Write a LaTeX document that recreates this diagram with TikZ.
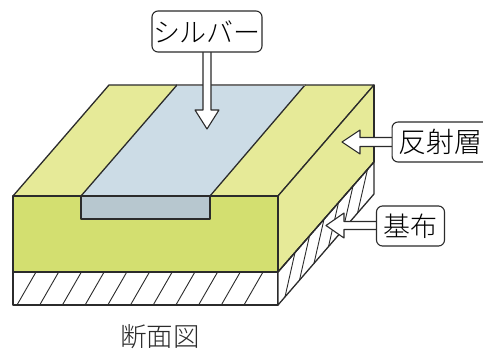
\documentclass[tikz,border=0pt]{standalone}
\usepackage{fontspec}
\newfontfamily\jpfont{Noto Sans CJK JP Light}
\usetikzlibrary{calc}
\definecolor{topyellow}{HTML}{E6EA98}
\definecolor{frontgreen}{HTML}{D3DF70}
\definecolor{silvertop}{HTML}{CCDCE6}
\definecolor{silverfront}{HTML}{B7C7CF}
\definecolor{ink}{HTML}{2B2B2B}
\tikzset{
  edge/.style={draw=ink,line width=1.3pt,line join=round},
  hatch/.style={draw=ink,line width=0.9pt},
  labelbox/.style={draw=ink,line width=1.1pt,fill=white,rounded corners=6pt,inner sep=0pt,font=\jpfont\fontsize{27}{27}\selectfont},
  blockarrow/.style={draw=ink,line width=1.1pt,fill=white,line join=round},
  caption/.style={inner sep=0pt,text=ink,font=\jpfont\fontsize{26.5}{26.5}\selectfont}
}
\begin{document}
\begin{tikzpicture}[x=1pt,y=-1pt]
\useasboundingbox (0,0) rectangle (483,349);
\clip (0,0) rectangle (483,349);
\fill[white] (0,0) rectangle (483,349);
% corners
\coordinate (fl) at (13,196);
\coordinate (fr) at (278,196);
\coordinate (ml) at (13,272);
\coordinate (mr) at (278,272);
\coordinate (bl) at (13,305);
\coordinate (br) at (278,305);
\coordinate (tl) at (109,85);
\coordinate (tr) at (374,85);
\coordinate (rm) at (374,162);
\coordinate (rb) at (374,194);
% top, side, front
\draw[edge,fill=topyellow] (fl) -- (tl) -- (tr) -- (fr) -- cycle;
\draw[edge,fill=topyellow] (fr) -- (tr) -- (rm) -- (mr) -- cycle;
\draw[edge,fill=frontgreen] (fl) -- (fr) -- (mr) -- (ml) -- cycle;
% silver strip
\draw[edge,fill=silvertop] (81,196) -- (177,85) -- (305,85) -- (210,196) -- cycle;
\draw[edge,draw=ink!65] (177,85) -- (305,85);
\draw[edge,fill=silverfront] (81,196) rectangle (210,219);
% base
\draw[edge,fill=white] (ml) -- (mr) -- (br) -- (bl) -- cycle;
\draw[edge,fill=white] (mr) -- (rm) -- (rb) -- (br) -- cycle;
\foreach \x in {0,...,10}{
  \draw[hatch] ({17+22.7*\x},305) -- ({36+22.7*\x},272);
}
\foreach \x in {285,299.5,314,328.5,343,357.5}{
  \draw[hatch] (\x,{305-1.156*(\x-278)}) -- ({\x+10},{272-1.146*(\x+10-278)});
}
\draw[edge] (fr) -- (mr);
\draw[edge] (ml) -- (mr) -- (rm);
\draw[edge] (rm) -- (tr);
% arrow tips
\coordinate (tipS) at (207,129);
\coordinate (tipH) at (342,142);
\coordinate (tipK) at (326,225.5);
% arrows
\draw[blockarrow] (tipS) -- ++(-12,-19) -- ++(8,0) -- ++(0,-60) -- ++(8,0) -- ++(0,60) -- ++(8,0) -- cycle;
\draw[blockarrow] (tipH) -- ++(18,-12) -- ++(0,7.5) -- ++(33,0) -- ++(0,9) -- ++(-33,0) -- ++(0,7.5) -- cycle;
\draw[blockarrow] (tipK) -- ++(18,-12.5) -- ++(0,8.5) -- ++(34,0) -- ++(0,8) -- ++(-34,0) -- ++(0,8.5) -- cycle;
% labels
\node[labelbox,minimum width=110pt,minimum height=41pt] (silver) at (207,31.5) {シルバー};
\node[labelbox,minimum width=100pt,minimum height=40pt,anchor=west] (hansha) at (391.5,142) {\hspace*{-4pt}\fontsize{28}{28}\selectfont 反射層};
\node[labelbox,minimum width=68pt,minimum height=40pt] (kifu) at (410.5,226) {基布};
\node[caption] (cap) at (160,336.5) {断面図};
\end{tikzpicture}
\end{document}
